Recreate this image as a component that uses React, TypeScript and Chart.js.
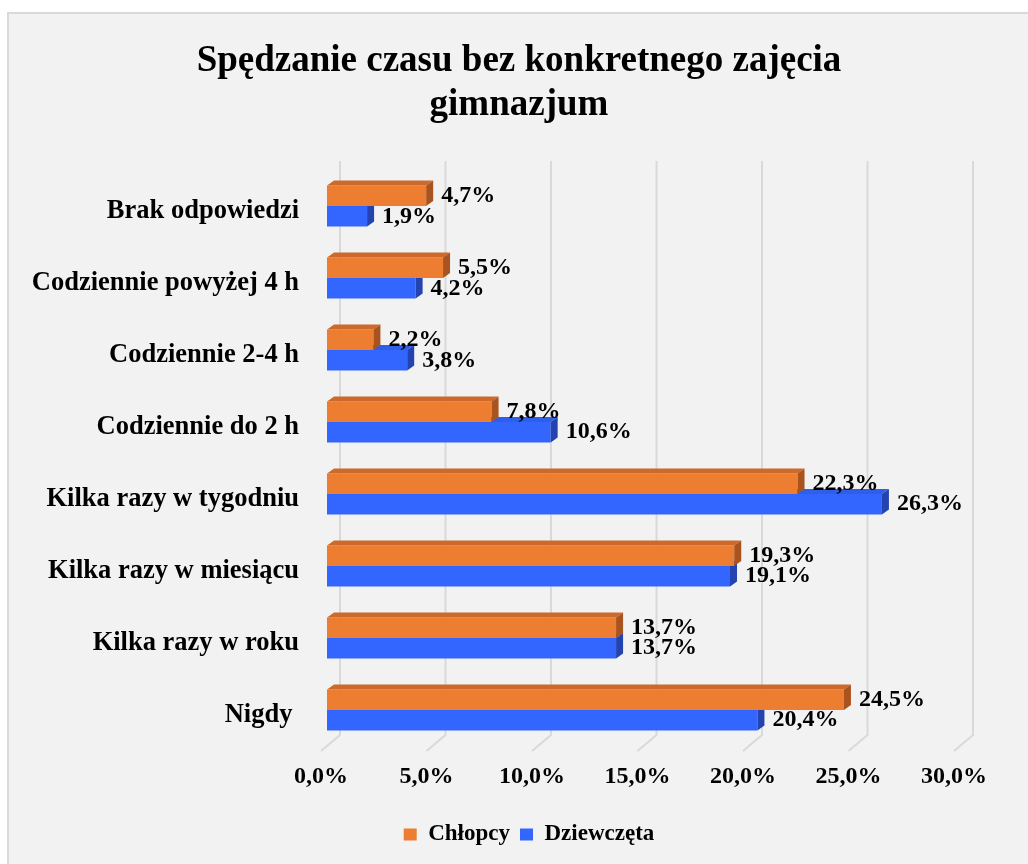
import React, { useEffect, useRef } from "react";
import { Chart, registerables } from "chart.js";

Chart.register(...registerables);

const categories = [
  "Brak odpowiedzi",
  "Codziennie powyżej 4 h",
  "Codziennie 2-4 h",
  "Codziennie do 2 h",
  "Kilka razy w tygodniu",
  "Kilka razy w miesiącu",
  "Kilka razy w roku",
  "Nigdy ",
];
const chlopcy = [4.7, 5.5, 2.2, 7.8, 22.3, 19.3, 13.7, 24.5];
const dziewczeta = [1.9, 4.2, 3.8, 10.6, 26.3, 19.1, 13.7, 20.4];
const xTicks = [0, 5, 10, 15, 20, 25, 30];
const seriesNames = ["Chłopcy", "Dziewczęta"];
const titleLines = ["Spędzanie czasu bez konkretnego zajęcia", "gimnazjum"];

const FONT = '"Liberation Serif", "Times New Roman", serif';
const W = 1028;
const H = 864;
const DX = 7;
const DY = 5;
const PAD_L = 20;
const PAD_R = 68;
const PAD_B = 8;
const AREA_LEFT = 327;
const AREA_BOTTOM = 746;
const LEGEND_H = 43;
const TITLE_CENTER = 519;
const LEGEND_CENTER = 529;

const frontColors = ["#ED7D31", "#3366FF"];
const faceColors = [
  { top: "#CC6A2B", side: "#A9541F" },
  { top: "#2F5FEA", side: "#2343B0" },
];

const fmt = (v: number) => v.toFixed(1).replace(".", ",") + "%";

const centerPlugin = {
  id: "centerBoxes",
  afterLayout(chart: any) {
    const t = chart.titleBlock;
    if (t) {
      const s = TITLE_CENTER - (t.left + t.right) / 2;
      t.left += s;
      t.right += s;
    }
    const l = chart.legend;
    if (l) {
      const s = LEGEND_CENTER - (l.left + l.right) / 2;
      l.left += s;
      l.right += s;
    }
  },
};

const gridPlugin = {
  id: "grid3d",
  beforeDatasetsDraw(chart: any) {
    const ctx = chart.ctx;
    const xs = chart.scales.x;
    ctx.save();
    ctx.strokeStyle = "#D9D9D9";
    ctx.lineWidth = 2;
    xTicks.forEach((v) => {
      const xf = xs.getPixelForValue(v);
      ctx.beginPath();
      ctx.moveTo(xf + 13, 161);
      ctx.lineTo(xf + 13, 735);
      ctx.lineTo(xf - 6, 751);
      ctx.stroke();
    });
    ctx.restore();
  },
};

const bar3dPlugin = {
  id: "bar3d",
  afterDatasetDraw(chart: any, args: any) {
    const ctx = chart.ctx;
    const fc = faceColors[args.index];
    ctx.save();
    args.meta.data.forEach((el: any) => {
      const p = el.getProps(["x", "y", "base", "height"], true);
      const left = Math.min(p.base, p.x);
      const right = Math.max(p.base, p.x);
      const top = p.y - p.height / 2;
      const bottom = p.y + p.height / 2;
      ctx.fillStyle = fc.top;
      ctx.beginPath();
      ctx.moveTo(left, top);
      ctx.lineTo(left + DX, top - DY);
      ctx.lineTo(right + DX, top - DY);
      ctx.lineTo(right, top);
      ctx.closePath();
      ctx.fill();
      ctx.fillStyle = fc.side;
      ctx.beginPath();
      ctx.moveTo(right, top);
      ctx.lineTo(right + DX, top - DY);
      ctx.lineTo(right + DX, bottom - DY);
      ctx.lineTo(right, bottom);
      ctx.closePath();
      ctx.fill();
    });
    ctx.restore();
  },
};

const labelPlugin = {
  id: "valueLabels",
  afterDatasetsDraw(chart: any) {
    const ctx = chart.ctx;
    ctx.save();
    ctx.font = `bold 24px ${FONT}`;
    ctx.fillStyle = "#000000";
    ctx.textAlign = "left";
    ctx.textBaseline = "middle";
    chart.data.datasets.forEach((ds: any, di: number) => {
      const meta = chart.getDatasetMeta(di);
      meta.data.forEach((el: any, i: number) => {
        const p = el.getProps(["x", "y"], true);
        ctx.fillText(fmt(ds.data[i]), p.x + DX + 8, p.y);
      });
    });
    ctx.restore();
  },
};

export default function App() {
  const ref = useRef<HTMLCanvasElement | null>(null);

  useEffect(() => {
    if (!ref.current) return;
    const chart = new Chart(ref.current, {
      type: "bar",
      data: {
        labels: categories,
        datasets: [
          {
            label: seriesNames[0],
            data: chlopcy,
            backgroundColor: frontColors[0],
            borderWidth: 0,
            categoryPercentage: 0.57,
            barPercentage: 1,
          },
          {
            label: seriesNames[1],
            data: dziewczeta,
            backgroundColor: frontColors[1],
            borderWidth: 0,
            categoryPercentage: 0.57,
            barPercentage: 1,
          },
        ],
      },
      options: {
        indexAxis: "y",
        responsive: false,
        animation: false,
        devicePixelRatio: 1,
        layout: { padding: { left: PAD_L, right: PAD_R, top: 0, bottom: PAD_B } },
        plugins: {
          title: {
            display: true,
            text: titleLines,
            color: "#000000",
            font: { family: FONT, size: 37, weight: "bold", lineHeight: 1.19 },
            padding: { top: 39, bottom: 43 },
          },
          legend: {
            display: true,
            position: "bottom",
            labels: {
              color: "#000000",
              font: { family: FONT, size: 23, weight: "bold" },
              boxWidth: 13,
              boxHeight: 12,
              padding: 10,
            },
          },
          tooltip: { enabled: false },
        },
        scales: {
          x: {
            min: 0,
            max: 30,
            afterBuildTicks: (s: any) => {
              s.ticks = xTicks.map((v) => ({ value: v }));
            },
            ticks: {
              callback: (v: any) => fmt(Number(v)),
              color: "#000000",
              font: { family: FONT, size: 24, weight: "bold" },
              padding: 16,
              labelOffset: -6,
              maxRotation: 0,
            },
            grid: { display: false, drawTicks: false },
            border: { display: false },
            afterFit: (s: any) => {
              s.height = H - PAD_B - LEGEND_H - AREA_BOTTOM;
            },
          },
          y: {
            ticks: {
              color: "#000000",
              font: { family: FONT, size: 26.5, weight: "bold" },
              padding: 28,
              labelOffset: 5,
              autoSkip: false,
            },
            grid: { display: false, drawTicks: false },
            border: { display: false },
            afterFit: (s: any) => {
              s.width = AREA_LEFT - PAD_L;
            },
          },
        },
      },
      plugins: [centerPlugin, gridPlugin, bar3dPlugin, labelPlugin],
    } as any);
    return () => chart.destroy();
  }, []);

  return (
    <div style={{ position: "fixed", left: 0, top: 0, width: W, height: H, background: "#ffffff" }}>
      <div
        style={{
          position: "absolute",
          left: 7,
          top: 12,
          right: 0,
          bottom: 0,
          background: "#F2F2F2",
          borderLeft: "2px solid #D9D9D9",
          borderTop: "2px solid #D9D9D9",
        }}
      />
      <canvas ref={ref} width={W} height={H} style={{ position: "absolute", left: 0, top: 0 }} />
    </div>
  );
}
